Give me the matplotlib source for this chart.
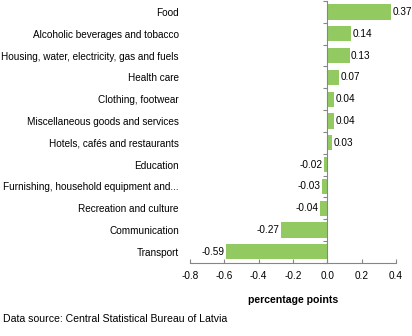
import matplotlib
matplotlib.use('Agg')
import matplotlib.pyplot as plt
import numpy as np

categories = [
    "Food",
    "Alcoholic beverages and tobacco",
    "Housing, water, electricity, gas and fuels",
    "Health care",
    "Clothing, footwear",
    "Miscellaneous goods and services",
    "Hotels, cafés and restaurants",
    "Education",
    "Furnishing, household equipment and...",
    "Recreation and culture",
    "Communication",
    "Transport",
]
values = [0.37, 0.14, 0.13, 0.07, 0.04, 0.04, 0.03, -0.02, -0.03, -0.04, -0.27, -0.59]
xticks = [-0.8, -0.6, -0.4, -0.2, 0.0, 0.2, 0.4]

plt.rcParams['font.family'] = ['Liberation Sans', 'DejaVu Sans']
fs = 7.2
grey = '#868686'

fig = plt.figure(figsize=(4.12, 3.36), dpi=100, facecolor='white')
ax = fig.add_axes([0.461, 0.218, 0.5, 0.779])

y = np.arange(len(categories))
bars = ax.barh(y, values, height=0.7, color='#93C961', zorder=2)
ax.bar_label(bars, labels=[f"{v:.2f}" for v in values], padding=1, fontsize=fs)

ax.set_xlim(-0.8, 0.4)
ax.set_ylim(len(categories) - 0.5, -0.5)
ax.set_xticks(xticks)
ax.set_xticklabels([f"{t:.1f}" for t in xticks])
ax.tick_params(axis='x', direction='in', length=3, color=grey, labelsize=fs, pad=6)

# vertical axis line at zero with boundary ticks
ax.spines['left'].set_position(('data', 0))
ax.spines['left'].set_color(grey)
ax.spines['bottom'].set_color(grey)
ax.spines['top'].set_visible(False)
ax.spines['right'].set_visible(False)
ax.set_yticks(np.arange(-0.5, len(categories), 1.0))
ax.set_yticklabels([])
ax.tick_params(axis='y', direction='out', length=3, color=grey)

# category labels at the left edge
sec = ax.secondary_yaxis('left')
sec.set_yticks(y, labels=categories)
sec.tick_params(length=0, labelsize=fs, pad=8)
sec.spines['left'].set_visible(False)

ax.set_xlabel("percentage points", fontsize=7.6, fontweight='bold', labelpad=10)

fig.text(0.008, 0.05, "Data source: Central Statistical Bureau of Latvia", fontsize=7.6, va='center')

fig.savefig('out.png', dpi=100, facecolor='white')
